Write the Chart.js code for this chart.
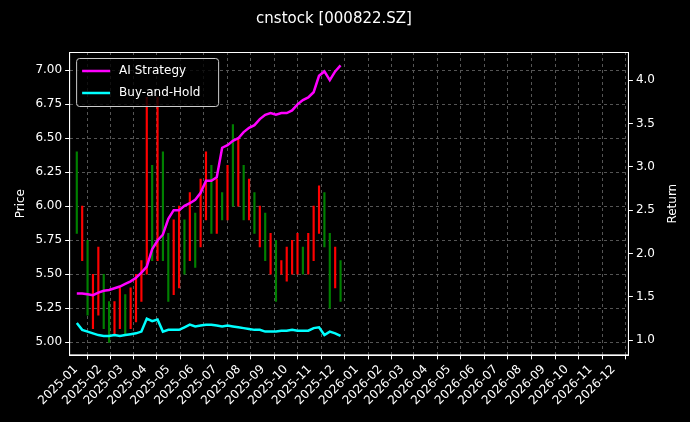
<!DOCTYPE html>
<html><head><meta charset="utf-8">
<script src="https://cdn.jsdelivr.net/npm/chart.js@4"></script>
<style>html,body{margin:0;background:#000}#wrap{width:690px;height:422px}</style>
</head><body><div id="wrap"><canvas id="c"></canvas></div>
<script>
// weekly candles, day offset from 2025-01-01
const weekDays = Array.from({length: 50}, (_, i) => 1 + 7 * i);
const lows  = [5.8,5.6,5.2,5.1,5.2,5.1,5.0,5.05,5.1,5.05,5.1,5.15,5.3,5.5,5.6,5.6,5.6,5.3,5.35,5.4,5.5,5.6,5.55,5.7,5.9,5.8,5.8,5.9,5.9,6.0,6.0,5.9,5.9,5.8,5.7,5.6,5.5,5.3,5.5,5.45,5.5,5.5,5.5,5.5,5.6,5.8,5.7,5.25,5.4,5.3];
const highs = [6.4,6.0,5.75,5.5,5.7,5.5,5.3,5.3,5.4,5.35,5.4,5.5,5.6,6.8,6.3,6.8,6.4,5.8,5.9,6.0,5.9,6.1,5.95,6.2,6.4,6.3,6.2,6.1,6.3,6.6,6.5,6.3,6.2,6.1,6.0,5.95,5.8,5.75,5.6,5.7,5.75,5.8,5.7,5.8,6.0,6.15,6.1,5.8,5.7,5.6];
const upDown = [0,1,0,1,1,0,0,1,1,0,1,1,1,1,0,1,0,0,1,1,0,1,0,1,1,0,1,0,1,0,1,0,1,0,1,0,1,0,1,1,1,1,0,1,1,1,0,0,1,0]; // 1 = red (up)
const aiStrategy = [1.54,1.54,1.53,1.52,1.55,1.57,1.58,1.60,1.62,1.65,1.68,1.72,1.78,1.85,2.05,2.15,2.22,2.40,2.50,2.50,2.55,2.58,2.62,2.70,2.84,2.84,2.88,3.22,3.25,3.30,3.33,3.40,3.45,3.48,3.55,3.60,3.62,3.60,3.62,3.62,3.65,3.72,3.77,3.80,3.86,4.05,4.10,4.00,4.10,4.17];
const buyHold = [1.20,1.12,1.10,1.08,1.06,1.05,1.05,1.06,1.05,1.06,1.07,1.08,1.10,1.25,1.22,1.24,1.10,1.12,1.12,1.12,1.15,1.18,1.16,1.17,1.18,1.18,1.17,1.16,1.17,1.16,1.15,1.14,1.13,1.12,1.12,1.10,1.10,1.10,1.11,1.11,1.12,1.11,1.11,1.11,1.14,1.15,1.06,1.10,1.08,1.05];
const monthLabels = [];
for (let y = 2025; y <= 2026; y++) for (let m = 1; m <= 12; m++) monthLabels.push(y + '-' + String(m).padStart(2, '0'));

const base = Date.UTC(2025, 0, 1);
const monthDays = monthLabels.map(s => (Date.UTC(+s.slice(0, 4), +s.slice(5) - 1, 1) - base) / 864e5);

Chart.defaults.font.family = 'DejaVu Sans';
Chart.defaults.color = '#fff';

// frame around the plot area, boxed legend in its top-left corner, right axis title
const frameLegend = {
  id: 'frameLegend',
  afterDraw(chart) {
    const a = chart.chartArea, c = chart.ctx;
    c.save();
    c.strokeStyle = '#fff'; c.lineWidth = 1;
    c.strokeRect(a.left + 0.5, a.top + 0.5, a.right - a.left - 1, a.bottom - a.top - 1);
    const x = a.left + 7, y = a.top + 6;
    c.fillStyle = 'rgba(0,0,0,0.8)';
    c.strokeStyle = '#ccc';
    c.beginPath(); c.roundRect(x + 0.5, y + 0.5, 142, 48, 3); c.fill(); c.stroke();
    c.font = '12px DejaVu Sans'; c.textBaseline = 'middle';
    chart.data.datasets.filter(d => d.type === 'line').forEach((d, i) => {
      const ly = y + 13 + i * 22;
      c.strokeStyle = d.borderColor; c.lineWidth = 2.5;
      c.beginPath(); c.moveTo(x + 6, ly); c.lineTo(x + 34, ly); c.stroke();
      c.fillStyle = '#fff'; c.fillText(d.label, x + 43, ly);
    });
    c.translate(673, (a.top + a.bottom) / 2); c.rotate(-Math.PI / 2);
    c.textAlign = 'center'; c.fillText('Return', 0, 0);
    c.restore();
  }
};

new Chart(document.getElementById('c'), {
  data: {
    datasets: [
      { type: 'line', label: 'AI Strategy', yAxisID: 'yR', data: weekDays.map((d, i) => ({x: d, y: aiStrategy[i]})),
        borderColor: '#ff00ff', borderWidth: 2.5, pointRadius: 0, order: 0 },
      { type: 'line', label: 'Buy-and-Hold', yAxisID: 'yR', data: weekDays.map((d, i) => ({x: d, y: buyHold[i]})),
        borderColor: '#00ffff', borderWidth: 2.5, pointRadius: 0, order: 0 },
      { type: 'bar', label: 'candles', yAxisID: 'y', data: weekDays.map((d, i) => ({x: d, y: [lows[i], highs[i]]})),
        backgroundColor: upDown.map(u => u ? '#ff0000' : '#008000'), barThickness: 1.5, order: 1, grouped: false }
    ]
  },
  options: {
    responsive: true, maintainAspectRatio: false, animation: false,
    layout: { padding: { left: 10, right: 32, top: 0, bottom: 11 } },
    plugins: {
      title: { display: true, text: 'cnstock [000822.SZ]', color: '#fff', font: { size: 15, weight: 'normal' }, padding: { top: 10, bottom: 24 } },
      legend: { display: false },
      tooltip: { enabled: false }
    },
    scales: {
      x: {
        type: 'linear', min: -9, max: 719, offset: false,
        afterBuildTicks: ax => { ax.ticks = monthDays.map(v => ({value: v})); },
        ticks: { callback: (v) => monthLabels[monthDays.indexOf(v)], maxRotation: 45, minRotation: 45, autoSkip: false, font: { size: 12 } },
        grid: { color: '#555', tickColor: '#fff', tickLength: 4 },
        border: { color: '#fff', dash: [3, 3] }
      },
      y: {
        position: 'left', min: 4.904, max: 7.133,
        afterBuildTicks: ax => { ax.ticks = [5,5.25,5.5,5.75,6,6.25,6.5,6.75,7].map(v => ({value: v})); },
        ticks: { callback: v => v.toFixed(2), font: { size: 12 } },
        title: { display: true, text: 'Price', font: { size: 12 } },
        grid: { color: '#555', tickColor: '#fff', tickLength: 4 },
        border: { color: '#fff', dash: [3, 3] }
      },
      yR: {
        position: 'right', min: 0.826, max: 4.324,
        afterBuildTicks: ax => { ax.ticks = [1,1.5,2,2.5,3,3.5,4].map(v => ({value: v})); },
        ticks: { callback: v => v.toFixed(1), font: { size: 12 } },
        grid: { drawOnChartArea: false, tickColor: '#fff', tickLength: 4 },
        border: { color: '#fff' }
      }
    }
  },
  plugins: [frameLegend]
});
</script></body></html>
